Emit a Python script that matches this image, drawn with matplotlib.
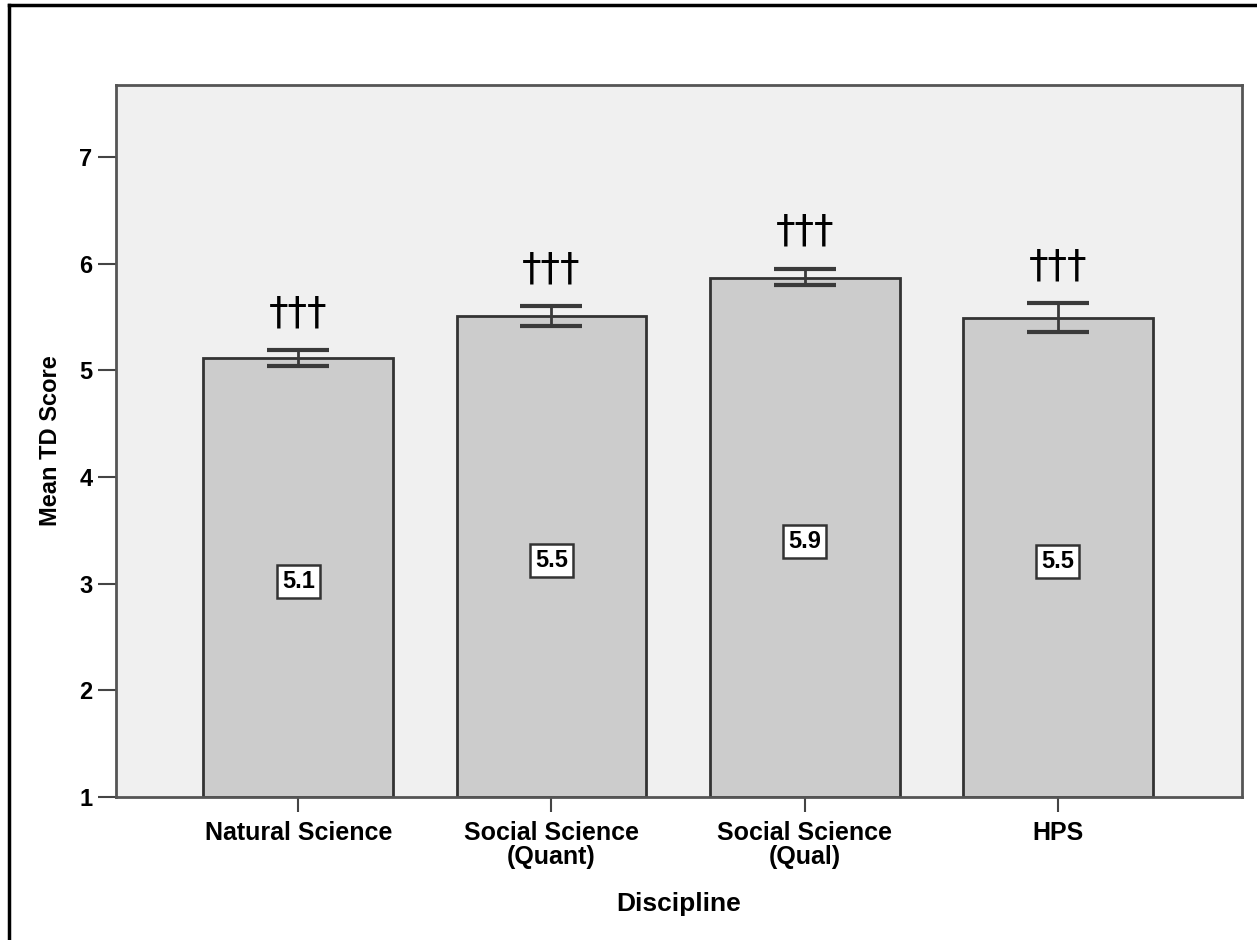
import matplotlib.pyplot as plt
from matplotlib.lines import Line2D

plt.rcParams["font.family"] = ["Liberation Sans", "DejaVu Sans"]

disciplines = ["Natural Science", "Social Science\n(Quant)", "Social Science\n(Qual)", "HPS"]
mean_td = [5.12, 5.51, 5.87, 5.49]
ci_low = [5.04, 5.42, 5.80, 5.36]
ci_high = [5.19, 5.60, 5.95, 5.63]
sig_marks = ["\u2020\u2020\u2020"] * 4

fig = plt.figure(figsize=(12.57, 9.4), dpi=100)
ax = fig.add_axes([0.0923, 0.1521, 0.8957, 0.7575])
ax.set_facecolor("#f0f0f0")

x = list(range(len(disciplines)))
bar_w = 0.75
ax.bar(x, [m - 1 for m in mean_td], bottom=1, width=bar_w,
       color="#cccccc", edgecolor="#333333", linewidth=2, zorder=2)

# confidence intervals
yerr = [[m - lo for m, lo in zip(mean_td, ci_low)],
        [hi - m for m, hi in zip(mean_td, ci_high)]]
ax.errorbar(x, mean_td, yerr=yerr, fmt="none", ecolor="#3a3a3a",
            elinewidth=2, capsize=22.6, capthick=3, zorder=3)

for xi, m, hi, mark in zip(x, mean_td, ci_high, sig_marks):
    # value box in the middle of each bar
    ax.annotate(f"{m:.1f}", (xi, (1 + m) / 2), xytext=(0, -3),
                textcoords="offset points", ha="center", va="center",
                fontsize=17, fontweight="bold", zorder=4,
                bbox=dict(boxstyle="square,pad=0.22", fc="white", ec="#333333", lw=1.8))
    ax.annotate(mark, (xi, hi), xytext=(0, 13), textcoords="offset points",
                ha="center", va="bottom", fontsize=28, family="DejaVu Sans",
                zorder=4)

ax.set_xlim(-0.72, 3.727)
ax.set_ylim(1, 7.675)
ax.set_yticks([1, 2, 3, 4, 5, 6, 7])
ax.set_xticks(x)
ax.set_xticklabels(disciplines, fontsize=18, fontweight="bold", linespacing=1.0)
ax.tick_params(axis="y", labelsize=17, length=13, width=1.5, color="#444444", pad=4)
ax.tick_params(axis="x", length=11, width=1.5, color="#444444", pad=6)
for lbl in ax.get_yticklabels():
    lbl.set_fontweight("bold")

for side in ["left", "right", "top", "bottom"]:
    ax.spines[side].set_color("#555555")
    ax.spines[side].set_linewidth(2)

ax.set_ylabel("Mean TD Score", fontsize=17, fontweight="bold", labelpad=12)
ax.set_xlabel("Discipline", fontsize=19, fontweight="bold", labelpad=17)

# outer frame, only left and top edges fall inside the canvas
fig.add_artist(Line2D([9 / 1257, 9 / 1257], [0, 1 - 5 / 940],
                      transform=fig.transFigure, color="black", lw=2.5))
fig.add_artist(Line2D([9 / 1257, 1], [1 - 5 / 940, 1 - 5 / 940],
                      transform=fig.transFigure, color="black", lw=2.5))

fig.savefig("out.png", dpi=100, facecolor="white")
